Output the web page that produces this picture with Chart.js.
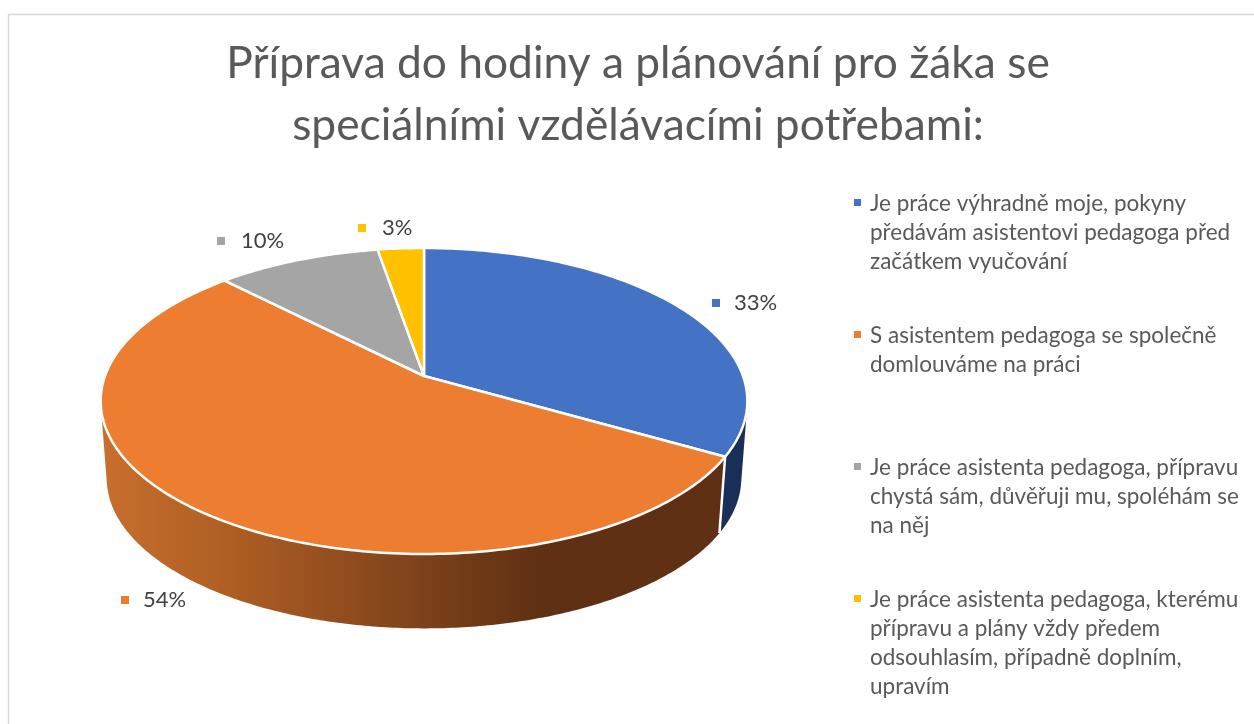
<!DOCTYPE html>
<html>
<head>
<meta charset="utf-8">
<title>Příprava do hodiny</title>
<script src="https://cdn.jsdelivr.net/npm/chart.js@4"></script>
<style>
  body { margin: 0; background: #fff; overflow: hidden; }
  canvas { display: block; }
</style>
</head>
<body>
<canvas id="pieChart" width="1254" height="724"></canvas>
<script>
// Chart data
const titleLines = ['Příprava do hodiny a plánování pro žáka se', 'speciálními vzdělávacími potřebami:'];
const categories = [
  ['Je práce výhradně moje, pokyny', 'předávám asistentovi pedagoga před', 'začátkem vyučování'],
  ['S asistentem pedagoga se společně', 'domlouváme na práci'],
  ['Je práce asistenta pedagoga, přípravu', 'chystá sám, důvěřuji mu, spoléhám se', 'na něj'],
  ['Je práce asistenta pedagoga, kterému', 'přípravu a plány vždy předem', 'odsouhlasím, případně doplním,', 'upravím']
];
const shares = [33.3, 54.4, 9.6, 2.7];
const sliceColors = ['#4472c4', '#ed7d31', '#a5a5a5', '#ffc000'];

// Where the percent labels and legend entries sit
const labelSpots = [[716, 303, 734], [125, 600, 143], [221, 241, 241], [362, 228, 382]];
const legendTops = [204, 336, 468, 600];

// Tilted disc: circle coordinates projected with some perspective
const cam = { x: 424, y: 376, rx: 319, ry: 148.9, c: -0.1634 };
const baseCam = { x: 424, y: 454, rx: 313, ry: 145.9, c: -0.1634 };

function project(p, theta) {
  const u = Math.sin(theta), v = -Math.cos(theta);
  const d = 1 + p.c * v;
  return [p.x + p.rx * u / d, p.y + p.ry * v / d];
}

function tracePolygon(ctx, pts) {
  // keep every quad wound the same way, they overlap near the tangents
  let area = 0;
  pts.forEach((a, i) => {
    const b = pts[(i + 1) % pts.length];
    area += a[0] * b[1] - b[0] * a[1];
  });
  const list = area < 0 ? pts.slice().reverse() : pts;
  ctx.moveTo(list[0][0], list[0][1]);
  list.slice(1).forEach(p => ctx.lineTo(p[0], p[1]));
  ctx.closePath();
}

function fillSide(ctx, from, to, style) {
  const steps = Math.ceil((to - from) * 90);
  ctx.beginPath();
  for (let i = 0; i < steps; i++) {
    const a = from + (to - from) * i / steps;
    const b = from + (to - from) * (i + 1) / steps;
    tracePolygon(ctx, [project(cam, a), project(cam, b), project(baseCam, b), project(baseCam, a)]);
  }
  ctx.fillStyle = style;
  ctx.fill();
}

const tiltedPie = {
  id: 'tiltedPie',
  beforeDatasetDraw(chart, args) {
    const ctx = chart.ctx;
    const arcs = chart.getDatasetMeta(args.index).data;
    const angle = a => a + Math.PI / 2;

    // side wall first, only the two front slices can show
    const orangeSide = ctx.createLinearGradient(100, 0, 747, 0);
    orangeSide.addColorStop(0, '#c86f2c');
    orangeSide.addColorStop(0.2, '#af5e24');
    orangeSide.addColorStop(0.45, '#85461c');
    orangeSide.addColorStop(0.68, '#5f3013');
    orangeSide.addColorStop(1, '#5f3013');
    fillSide(ctx, angle(arcs[0].startAngle), angle(arcs[0].endAngle), '#1a2f58');
    fillSide(ctx, angle(arcs[1].startAngle), angle(arcs[1].endAngle), orangeSide);

    const joint = angle(arcs[0].endAngle);
    ctx.beginPath();
    ctx.moveTo(...project(cam, joint));
    ctx.lineTo(...project(baseCam, joint));
    ctx.strokeStyle = '#fff';
    ctx.lineWidth = 2.5;
    ctx.stroke();

    // top face
    arcs.forEach((arc, i) => {
      const from = angle(arc.startAngle), to = angle(arc.endAngle);
      const steps = Math.ceil((to - from) * 60);
      ctx.beginPath();
      ctx.moveTo(cam.x, cam.y);
      for (let s = 0; s <= steps; s++) {
        ctx.lineTo(...project(cam, from + (to - from) * s / steps));
      }
      ctx.closePath();
      ctx.fillStyle = sliceColors[i];
      ctx.fill();
      ctx.strokeStyle = '#fff';
      ctx.lineWidth = 2.5;
      ctx.lineJoin = 'round';
      ctx.stroke();
    });
    return false;
  },
  afterDraw(chart) {
    const ctx = chart.ctx;
    // outline of the chart box, runs off the picture on the right and below
    ctx.strokeStyle = '#d9d9d9';
    ctx.lineWidth = 1.5;
    ctx.beginPath();
    ctx.moveTo(8.5, 724);
    ctx.lineTo(8.5, 14.5);
    ctx.lineTo(1254, 14.5);
    ctx.stroke();

    ctx.textBaseline = 'middle';
    ctx.textAlign = 'left';

    // percent labels with their small squares
    ctx.font = '22px Lato';
    shares.forEach((v, i) => {
      const [x, y, textX] = labelSpots[i];
      ctx.fillStyle = sliceColors[i];
      ctx.fillRect(x - 4, y - 4, 8, 8);
      ctx.fillStyle = '#404040';
      ctx.fillText(Math.round(v) + '%', textX, y);
    });

    // legend
    ctx.font = '22.5px Lato';
    categories.forEach((lines, i) => {
      ctx.fillStyle = sliceColors[i];
      ctx.fillRect(854, legendTops[i] - 5, 7, 7);
      ctx.fillStyle = '#595959';
      lines.forEach((line, n) => ctx.fillText(line, 870, legendTops[i] + n * 29));
    });
  }
};

new Chart(document.getElementById('pieChart'), {
  type: 'pie',
  data: {
    labels: categories.map(lines => lines.join(' ')),
    datasets: [{ data: shares, backgroundColor: sliceColors }]
  },
  options: {
    responsive: false,
    animation: false,
    layout: { padding: { left: 22 } },
    plugins: {
      legend: { display: false },
      tooltip: { enabled: false },
      title: {
        display: true,
        text: titleLines,
        color: '#595959',
        font: { family: 'Lato', size: 44.3, weight: 'normal', lineHeight: 1.4 },
        padding: { top: 33, bottom: 10 }
      }
    }
  },
  plugins: [tiltedPie]
});
</script>
</body>
</html>
